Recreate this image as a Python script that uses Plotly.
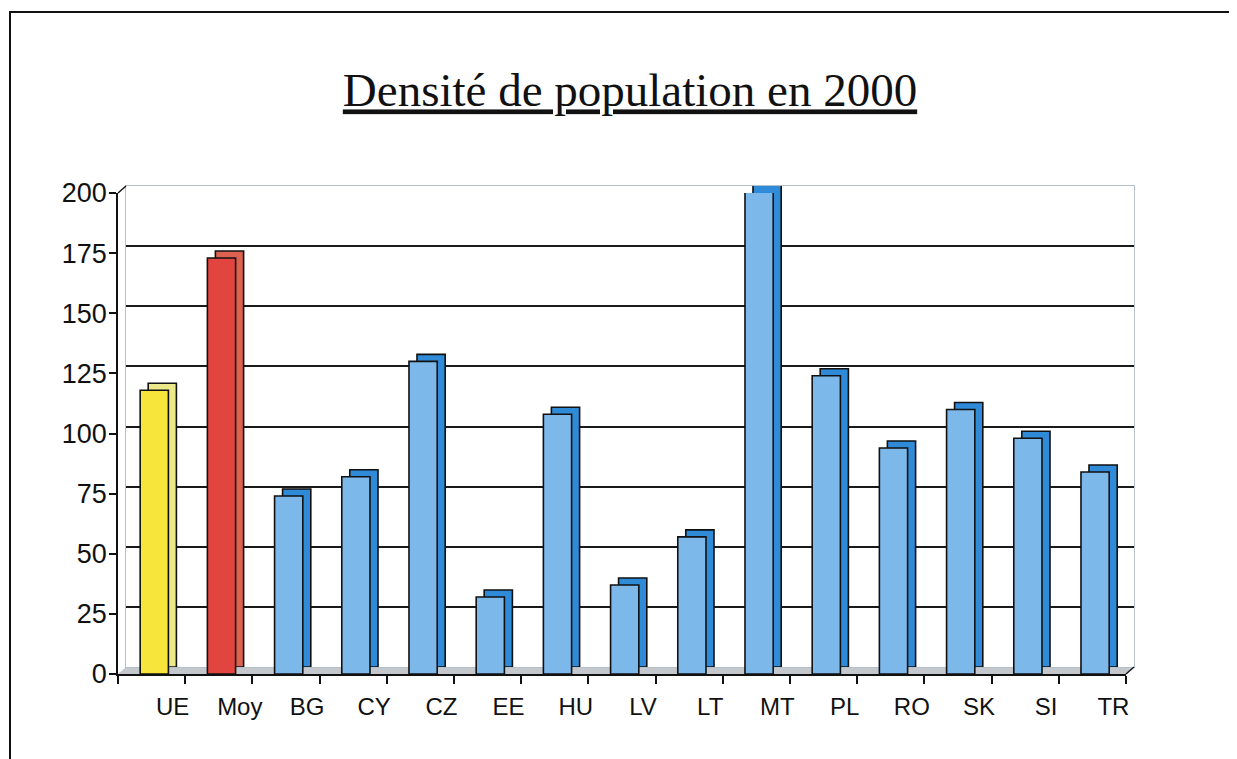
import plotly.graph_objects as go

# ---- data ----
categories = ["UE", "Moy", "BG", "CY", "CZ", "EE", "HU", "LV", "LT", "MT",
              "PL", "RO", "SK", "SI", "TR"]
density = [118, 173, 74, 82, 130, 32, 108, 37, 57, 201,
           124, 94, 110, 98, 84]
y_ticks = [0, 25, 50, 75, 100, 125, 150, 175, 200]
grid_ticks = [25, 50, 75, 100, 125, 150, 175]
title_text = "Densité de population en 2000"

# ---- styles ----
front_colors = ["#f7e53c", "#e2443f"] + ["#7cb8ea"] * 13
side_colors = ["#ece98a", "#dd6252"] + ["#2f8ad8"] * 13

OFF = 8                       # page body margin
W, H = 1237 - OFF, 759 - OFF
# reference pixel geometry
ref_left, ref_right_front, ref_right_back = 118, 1126, 1134
ref_bottom_front, ref_top_front, ref_top_back = 674, 193, 186
ml = ref_left - OFF
mr = W - (ref_right_back - OFF)
mt = ref_top_back - OFF
mb = H - (ref_bottom_front - OFF)
PW = W - ml - mr
PH = H - mt - mb
dx, dy = 8, 7
front_w = ref_right_front - ref_left
front_h = ref_bottom_front - ref_top_front

fig = go.Figure()

fig.add_trace(go.Bar(
    x=categories, y=density, xaxis="x", yaxis="y",
    marker=dict(color=side_colors, line=dict(color="#111111", width=1.6)),
    width=0.42, offset=-0.17, hoverinfo="skip", showlegend=False, cliponaxis=False,
))
fig.add_trace(go.Bar(
    x=categories, y=density, xaxis="x2", yaxis="y2",
    marker=dict(color=front_colors, line=dict(color="#111111", width=1.6)),
    width=0.42, offset=-0.17, showlegend=False, cliponaxis=False,
))

fx1 = front_w / PW
fy1 = front_h / PH
bx0 = dx / PW
by0 = dy / PH

font_sans = "Liberation Sans, Arial, sans-serif"

fig.update_layout(
    width=W, height=H,
    margin=dict(l=ml, r=mr, t=mt, b=mb),
    paper_bgcolor="white", plot_bgcolor="rgba(0,0,0,0)",
    title=dict(
        text="<u>" + title_text + "</u>",
        x=(630 - OFF) / W, xanchor="center", y=1 - (90 - OFF) / H, yanchor="middle",
        font=dict(family="Liberation Serif, Times New Roman, serif", size=47, color="#111111"),
    ),
    xaxis=dict(domain=[bx0, 1], range=[-0.5, len(categories) - 0.5],
               type="category", showticklabels=False, ticks="", showgrid=False,
               zeroline=False, showline=True, linecolor="#b4c0cc", linewidth=1,
               mirror=True),
    yaxis=dict(domain=[by0, 1], range=[0, 200], tickvals=grid_ticks,
               showticklabels=False, ticks="", showgrid=True,
               gridcolor="#1a1a1a", gridwidth=1.6, zeroline=False,
               showline=True, linecolor="#b4c0cc", linewidth=1, mirror=True),
    xaxis2=dict(domain=[0, fx1], range=[-0.5, len(categories) - 0.5],
                type="category", anchor="y2",
                showline=True, linecolor="#111111", linewidth=1.6,
                ticks="outside", tickson="boundaries", ticklen=8,
                tickwidth=1.6, tickcolor="#111111", showgrid=False,
                zeroline=False, ticklabelshift=21, ticklabelstandoff=10,
                tickfont=dict(family=font_sans, size=24, color="#111111")),
    yaxis2=dict(domain=[0, fy1], range=[0, 200], anchor="x2",
                tickvals=y_ticks, showline=True, linecolor="#111111",
                linewidth=1.6, ticks="outside", ticklen=7, tickwidth=1.6,
                tickcolor="#111111", showgrid=False, zeroline=False,
                ticklabelstandoff=-3,
                tickfont=dict(family=font_sans, size=27, color="#111111")),
)

def px_x(p):
    return (p - OFF - ml) / PW

def px_y(p):
    return (H - mb - (p - OFF)) / PH

shapes = [
    dict(type="path", xref="paper", yref="paper", layer="below",
         path=f"M {px_x(118)},{px_y(674)} L {px_x(1126)},{px_y(674)} "
              f"L {px_x(1134)},{px_y(667)} L {px_x(126)},{px_y(667)} Z",
         fillcolor="#c4c8cc", line=dict(width=0)),
    dict(type="line", xref="paper", yref="paper",
         x0=px_x(118), y0=px_y(193), x1=px_x(126), y1=px_y(186),
         line=dict(color="#111111", width=1.4)),
    dict(type="line", xref="paper", yref="paper",
         x0=px_x(1126), y0=px_y(674), x1=px_x(1134), y1=px_y(667),
         line=dict(color="#111111", width=1.4)),
    dict(type="rect", xref="paper", yref="paper",
         x0=px_x(10), y0=px_y(12), x1=px_x(1260), y1=px_y(790),
         line=dict(color="#111111", width=2), fillcolor="rgba(0,0,0,0)"),
]
fig.update_layout(shapes=shapes)

fig.write_html("out.html")
